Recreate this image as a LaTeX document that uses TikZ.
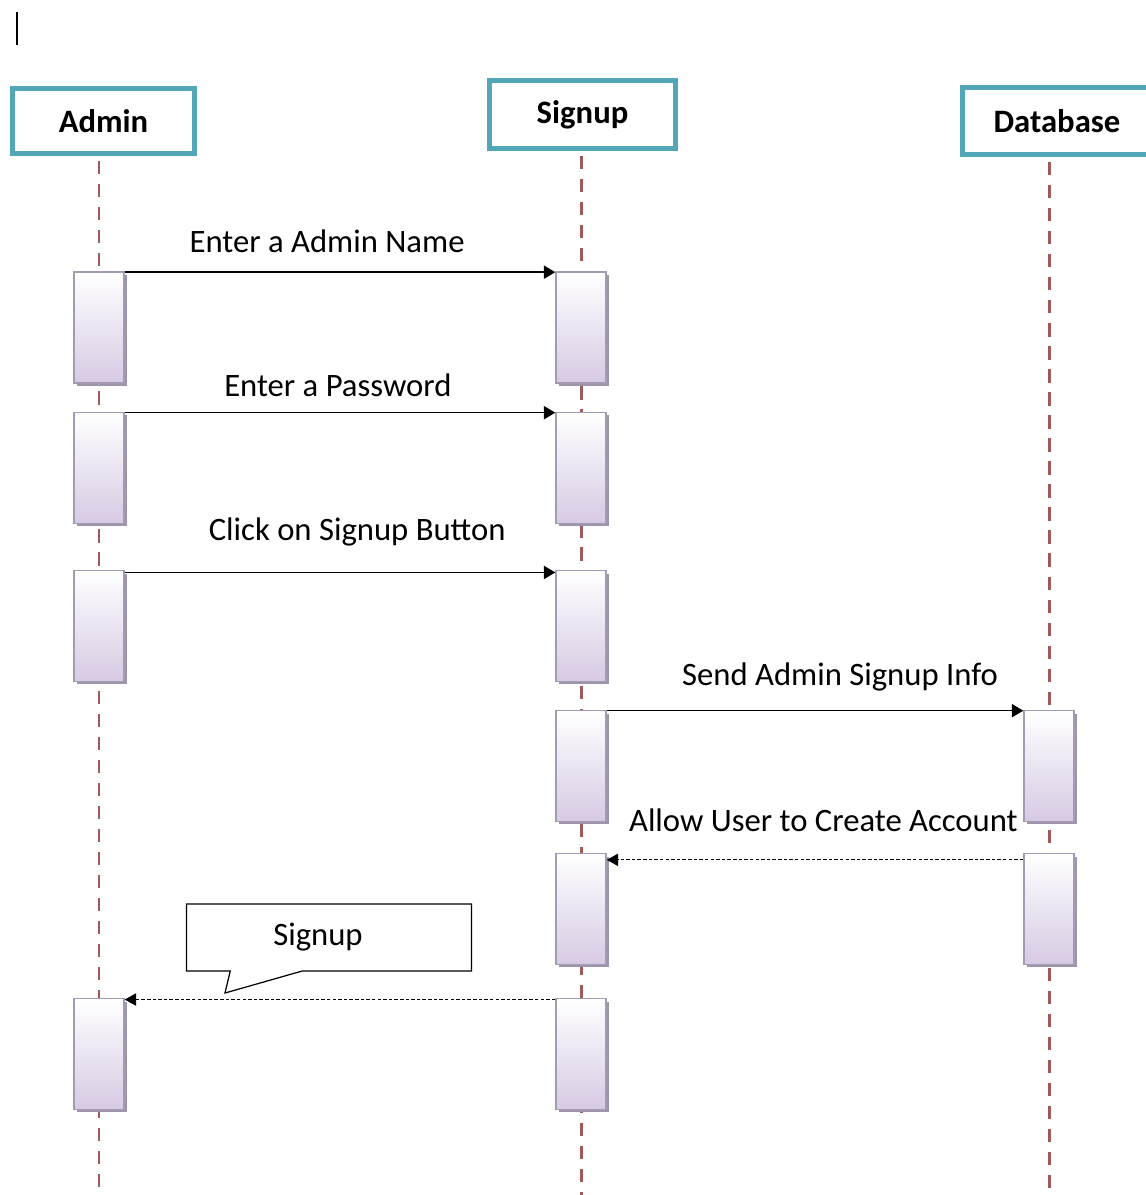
\documentclass[tikz,border=0pt]{standalone}
\usepackage{fontspec}
\setmainfont{Carlito}
\usetikzlibrary{arrows.meta,shadows,shapes.callouts,backgrounds}
\definecolor{headframe}{HTML}{52A6B6}
\definecolor{lifered}{HTML}{9E5A58}
\definecolor{actedge}{HTML}{A39BB3}
\definecolor{actfill}{HTML}{D6CAE3}
\definecolor{actshade}{HTML}{9E94AC}

\begin{document}
\begin{tikzpicture}[x=0.02cm, y=-0.02cm, every node/.style={font=\fontsize{18.6}{22}\selectfont,align=center},
  headbox/.style={draw=headframe,line width=2.8pt,fill=white,inner sep=0pt,font=\fontsize{18.6}{22}\selectfont\bfseries},
  actbox/.style={draw=actedge,line width=0.8pt,top color=white,bottom color=actfill,minimum width=1cm,minimum height=2.22cm,inner sep=0pt,
    drop shadow={shadow xshift=1.7pt,shadow yshift=-1.7pt,fill=actshade,opacity=1}},
  lifeline/.style={draw=lifered,line width=1.7pt,dash pattern=on 7.5pt off 5.6pt},
  msg/.style={-{Triangle[length=6.5pt,width=7.5pt]},line width=0.8pt},
  reply/.style={-{Triangle[length=6.5pt,width=7pt]},line width=0.6pt,dash pattern=on 2pt off 1.2pt},
  lbl/.style={inner sep=0pt}]
  \useasboundingbox (0,0) rectangle (1145,1195);
  \coordinate (bot) at (0,1195);
  \draw[line width=0.8pt] (17,12) -- (17,45);
  \node[headbox,minimum width=3.64cm,minimum height=1.3cm] (admin) at (103.5,121) {Admin};
  \node[headbox,minimum width=3.72cm,minimum height=1.36cm] (signup) at (582.5,114.5) {Signup};
  \node[headbox,minimum width=3.78cm,minimum height=1.34cm] (db) at (1057,121) {Database};
  \node[actbox] (a1) at (99,327.5) {};
  \node[actbox] (a2) at (99,468) {};
  \node[actbox] (a3) at (99,626) {};
  \node[actbox] (a4) at (99,1054) {};
  \node[actbox] (s1) at (581,327.5) {};
  \node[actbox] (s2) at (581,468) {};
  \node[actbox] (s3) at (581,626) {};
  \node[actbox] (s4) at (581,766) {};
  \node[actbox] (s5) at (581,909) {};
  \node[actbox] (s6) at (581,1054) {};
  \node[actbox] (d1) at (1049,766) {};
  \node[actbox] (d2) at (1049,909) {};
  \begin{scope}[on background layer]
    \draw[lifeline] ([yshift=-3pt]a1 |- admin.south) -- (a1 |- bot);
    \draw[lifeline] ([yshift=-3pt]s1 |- signup.south) -- (s1 |- bot);
    \draw[lifeline] ([yshift=-3pt]d1 |- db.south) -- (d1 |- bot);
  \end{scope}
  \draw[msg] ([yshift=-0.5pt]a1.north east) -- node[lbl,pos=0.47,yshift=17.6pt] (t1) {Enter a Admin Name} ([yshift=-0.5pt]s1.north west);
  \draw[msg] ([yshift=-0.5pt]a2.north east) -- node[lbl,pos=0.495,yshift=15.4pt] (t2) {Enter a Password} ([yshift=-0.5pt]s2.north west);
  \draw[msg] ([yshift=-1.5pt]a3.north east) -- node[lbl,pos=0.54,yshift=23.3pt] (t3) {Click on Signup Button} ([yshift=-1.5pt]s3.north west);
  \draw[msg] ([yshift=-0.5pt]s4.north east) -- node[lbl,pos=0.56,yshift=19.3pt] (t4) {Send Admin Signup Info} ([yshift=-0.5pt]d1.north west);
  \draw[reply] ([yshift=-4pt]d2.north west) -- node[lbl,pos=0.48,yshift=22.8pt] (t5) {Allow User to Create Account} ([yshift=-4pt]s5.north east);
  \draw[reply] ([yshift=-1pt]s6.north west) -- ([yshift=-1pt]a4.north east);
  \coordinate (tip) at (225,993);
  \node[rectangle callout,draw,line width=0.7pt,fill=white,minimum width=5.7cm,minimum height=1.34cm,
    callout absolute pointer={(tip)},callout pointer width=1.44cm] (note) at (329,937.5) {Signup\hspace*{0.44cm}};
\end{tikzpicture}
\end{document}
